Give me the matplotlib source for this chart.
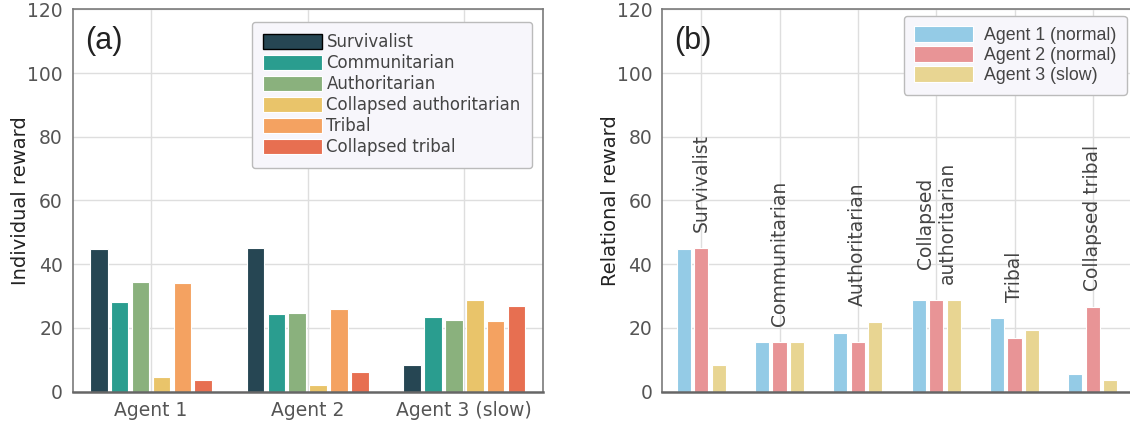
import numpy as np
import matplotlib
matplotlib.use("Agg")
import matplotlib.pyplot as plt
from matplotlib import font_manager as fm

plt.rcParams["font.family"] = ["DejaVu Sans"]

def arial_like(size):
    for f in fm.findSystemFonts():
        name = f.split("/")[-1]
        if name.lower() == "liberationsans-regular.ttf":
            return fm.FontProperties(fname=f, size=size)
    return fm.FontProperties(family="Liberation Sans", size=size)

# ---------------- data ----------------
agents = ["Agent 1", "Agent 2", "Agent 3 (slow)"]
societies = ["Survivalist", "Communitarian", "Authoritarian",
             "Collapsed authoritarian", "Tribal", "Collapsed tribal"]
society_labels_b = ["Survivalist", "Communitarian", "Authoritarian",
                    "Collapsed\nauthoritarian", "Tribal", "Collapsed tribal"]

# individual reward: rows = society, cols = agent
survivalist = [44.7, 45.0, 8.4]
communitarian = [28.1, 24.5, 23.5]
authoritarian = [34.5, 24.7, 22.4]
collapsed_authoritarian = [4.7, 2.0, 28.9]
tribal = [34.0, 26.0, 22.3]
collapsed_tribal = [3.6, 6.1, 26.8]
individual = [survivalist, communitarian, authoritarian,
              collapsed_authoritarian, tribal, collapsed_tribal]

# relational reward: per agent, across societies
agent_labels_b = ["Agent 1 (normal)", "Agent 2 (normal)", "Agent 3 (slow)"]
rel_agent1 = [44.7, 15.7, 18.3, 28.7, 23.0, 5.5]
rel_agent2 = [45.1, 15.7, 15.7, 28.7, 16.9, 26.6]
rel_agent3 = [8.4, 15.7, 21.8, 28.7, 19.3, 3.7]
relational = [rel_agent1, rel_agent2, rel_agent3]

yticks = [0, 20, 40, 60, 80, 100, 120]

# ---------------- style ----------------
soc_colors = ["#264653", "#2a9d8f", "#8ab17d", "#e9c46a", "#f4a261", "#e76f51"]
agent_colors = ["#94cbe6", "#e89496", "#e8d592"]
grid_c = "#dedede"
tick_c = "#555555"

fig = plt.figure(figsize=(11.3, 4.23), dpi=100)
W, H = 1130, 423
axA = fig.add_axes([72.7 / W, (H - 391.7) / H, 470 / W, 382.4 / H])
axB = fig.add_axes([662 / W, (H - 391.7) / H, 470 / W, 382.4 / H])

def style(ax):
    ax.set_ylim(0, 120)
    ax.set_yticks(yticks)
    ax.grid(True, color=grid_c, lw=1)
    ax.set_axisbelow(True)
    for s in ["top", "right", "left"]:
        ax.spines[s].set_color("#7a7a7a")
        ax.spines[s].set_linewidth(1.2)
    ax.spines["bottom"].set_color("#666666")
    ax.spines["bottom"].set_linewidth(1.8)
    ax.tick_params(length=0, pad=7, labelsize=13.5, labelcolor=tick_c)

# ---------------- panel (a) ----------------
style(axA)
x = np.arange(len(agents))
step = 0.8 / len(societies)
for i, (name, vals) in enumerate(zip(societies, individual)):
    off = (i - (len(societies) - 1) / 2) * step
    axA.bar(x + off, vals, width=0.112, color=soc_colors[i],
            edgecolor="white", linewidth=0.8, label=name)
axA.set_xlim(-0.5, 2.5)
axA.set_xticks(x)
axA.set_xticklabels(agents)
axA.set_ylabel("Individual reward", fontsize=14, color="#222222")
axA.yaxis.set_label_coords(-0.09, 0.5)
axA.text(0.026, 0.916, "(a)", transform=axA.transAxes,
         fontproperties=arial_like(22), color="#222222", va="center", ha="left")
legA = axA.legend(loc="upper right", bbox_to_anchor=(0.978, 0.968),
                  borderaxespad=0, fontsize=12, handlelength=3.5,
                  handleheight=0.95, handletextpad=0.28, labelspacing=0.18,
                  borderpad=0.7, fancybox=True, framealpha=1,
                  facecolor="#f7f6fb", edgecolor="#bbbbbb")
for t in legA.get_texts():
    t.set_color("#444444")
legA.get_patches()[0].set_edgecolor("black")
legA.get_patches()[0].set_linewidth(1.0)

# ---------------- panel (b) ----------------
style(axB)
xb = np.arange(len(societies))
stepb = 0.223
for j, (name, vals) in enumerate(zip(agent_labels_b, relational)):
    off = (j - 1) * stepb
    axB.bar(xb + off, vals, width=0.18, color=agent_colors[j],
            edgecolor="white", linewidth=0.8, label=name)
axB.set_xlim(-0.5, 5.5)
axB.set_xticks(xb)
axB.set_xticklabels([])
axB.set_ylabel("Relational reward", fontsize=14, color="#222222")
axB.yaxis.set_label_coords(-0.09, 0.5)
maxes = np.max(np.array(relational), axis=0)
for k, lab in enumerate(society_labels_b):
    axB.text(xb[k], maxes[k] + 5.0, lab, rotation=90, ha="center",
             va="bottom", fontsize=13.5, color="#444444")
axB.text(0.026, 0.916, "(b)", transform=axB.transAxes,
         fontproperties=arial_like(22), color="#222222", va="center", ha="left")
legB = axB.legend(loc="upper right", bbox_to_anchor=(0.9887, 0.983),
                  borderaxespad=0, prop=arial_like(12.8),
                  handlelength=3.3, handleheight=0.95, handletextpad=0.6,
                  labelspacing=0.12, borderpad=0.6, fancybox=True,
                  framealpha=1, facecolor="#f7f6fb", edgecolor="#bbbbbb")
for t in legB.get_texts():
    t.set_color("#444444")

fig.savefig("out.png", dpi=100)
